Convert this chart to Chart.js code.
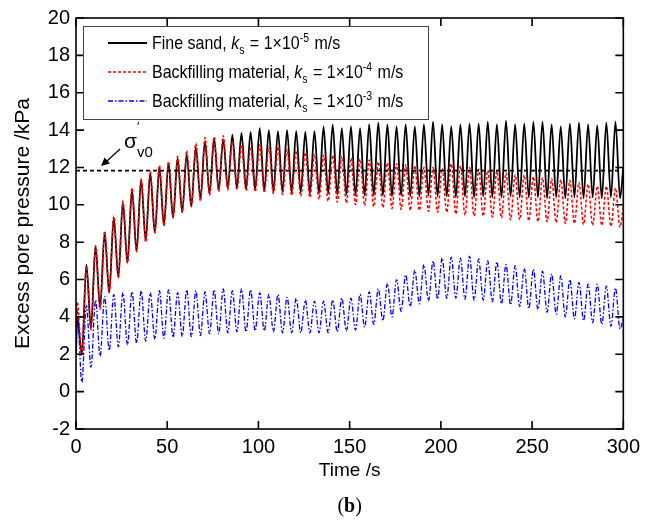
<!DOCTYPE html>
<html>
<head>
<meta charset="utf-8">
<script src="https://cdn.jsdelivr.net/npm/chart.js@4.4.0/dist/chart.umd.min.js"></script>
<style>
  html, body { margin: 0; padding: 0; background: #fff; }
  #wrap { width: 646px; height: 527px; }
</style>
</head>
<body>
<div id="wrap"><canvas id="poreChart" width="646" height="527"></canvas></div>
<script>
// time of each turning point (s): start, then peak / trough pairs, end
const timeS = [
  0, 0.7, 3.2, 5.7, 8.2, 10.7, 13.2, 15.7, 18.2, 20.7, 23.2, 25.7, 28.2, 30.7, 33.2, 35.7, 38.2, 40.7, 43.2, 45.7, 48.2,
  50.7, 53.2, 55.7, 58.2, 60.7, 63.2, 65.7, 68.2, 70.7, 73.2, 75.7, 78.2, 80.7, 83.2, 85.7, 88.2, 90.7, 93.2, 95.7, 98.2,
  100.7, 103.2, 105.7, 108.2, 110.7, 113.2, 115.7, 118.2, 120.7, 123.2, 125.7, 128.2, 130.7, 133.2, 135.7, 138.2, 140.7, 143.2, 145.7, 148.2,
  150.7, 153.2, 155.7, 158.2, 160.7, 163.2, 165.7, 168.2, 170.7, 173.2, 175.7, 178.2, 180.7, 183.2, 185.7, 188.2, 190.7, 193.2, 195.7, 198.2,
  200.7, 203.2, 205.7, 208.2, 210.7, 213.2, 215.7, 218.2, 220.7, 223.2, 225.7, 228.2, 230.7, 233.2, 235.7, 238.2, 240.7, 243.2, 245.7, 248.2,
  250.7, 253.2, 255.7, 258.2, 260.7, 263.2, 265.7, 268.2, 270.7, 273.2, 275.7, 278.2, 280.7, 283.2, 285.7, 288.2, 290.7, 293.2, 295.7, 298.2, 300
];

// Fine sand, ks = 1e-5 m/s (kPa)
const fineSand = [
  2.0, 4.0, 2.0, 6.8, 3.4, 7.8, 4.5, 8.5, 5.3, 9.3, 6.1, 10.1, 6.9, 10.8, 7.5, 11.35, 8.1, 11.7, 8.5, 12.0, 8.9,
  12.25, 9.3, 12.5, 9.6, 12.7, 9.9, 13.1, 10.3, 13.4, 10.6, 13.55, 10.8, 13.5, 10.9, 13.75, 10.9, 13.85, 10.85, 13.9, 10.8,
  14.1, 10.75, 14.0, 10.7, 13.95, 10.7, 14.0, 10.65, 13.95, 10.65, 13.9, 10.6, 13.95, 10.6, 14.2, 10.6, 14.3, 10.55, 14.1, 10.55,
  14.2, 10.5, 14.1, 10.5, 14.3, 10.5, 14.4, 10.5, 14.3, 10.45, 14.2, 10.5, 14.3, 10.45, 14.2, 10.45, 14.3, 10.5, 14.45, 10.45,
  14.3, 10.45, 14.2, 10.4, 14.3, 10.45, 14.35, 10.4, 14.35, 10.45, 14.45, 10.4, 14.3, 10.4, 14.5, 10.45, 14.3, 10.4, 14.35, 10.4,
  14.45, 10.4, 14.45, 10.35, 14.3, 10.4, 14.2, 10.35, 14.35, 10.4, 14.4, 10.35, 14.3, 10.4, 14.25, 10.35, 14.4, 10.4, 14.45, 10.35, 12.0
];

// Backfilling material, ks = 1e-4 m/s (kPa)
const backfill4 = [
  3.5, 4.8, 1.9, 6.7, 3.3, 7.8, 4.4, 8.6, 5.3, 9.4, 6.1, 10.2, 6.9, 10.9, 7.5, 11.4, 8.0, 11.8, 8.5, 12.1, 8.9,
  12.3, 9.3, 12.6, 9.6, 12.9, 9.9, 13.3, 10.2, 13.6, 10.5, 13.65, 10.7, 13.7, 10.8, 13.4, 10.8, 13.2, 10.75, 13.1, 10.7,
  13.2, 10.65, 13.1, 10.6, 13.1, 10.55, 12.95, 10.5, 12.9, 10.45, 12.8, 10.4, 12.7, 10.3, 12.65, 10.2, 12.65, 10.15, 12.6, 10.1,
  12.5, 10.0, 12.45, 9.95, 12.4, 9.9, 12.3, 9.85, 12.25, 9.8, 12.2, 9.75, 12.15, 9.7, 12.1, 9.7, 12.0, 9.65, 12.0, 9.6,
  11.95, 9.6, 12.2, 9.5, 12.1, 9.45, 12.0, 9.4, 11.9, 9.4, 11.85, 9.35, 11.8, 9.3, 11.7, 9.2, 11.6, 9.2, 11.6, 9.15,
  11.5, 9.1, 11.45, 9.1, 11.4, 9.05, 11.35, 9.0, 11.3, 9.0, 11.2, 8.95, 11.1, 8.9, 11.0, 8.9, 11.0, 8.85, 10.9, 8.8, 9.9
];

// Backfilling material, ks = 1e-3 m/s (kPa)
const backfill3 = [
  2.5, 4.3, 0.5, 4.6, 1.3, 4.9, 1.9, 5.1, 2.2, 5.2, 2.4, 5.3, 2.5, 5.35, 2.6, 5.4, 2.7, 5.3, 2.8, 5.4, 2.85,
  5.45, 2.9, 5.3, 2.95, 5.45, 2.95, 5.4, 3.0, 5.35, 3.1, 5.45, 3.1, 5.5, 3.15, 5.4, 3.2, 5.5, 3.2, 5.45, 3.25,
  5.3, 3.25, 5.2, 3.2, 5.2, 3.15, 5.05, 3.15, 5.0, 3.15, 4.9, 3.15, 4.85, 3.15, 4.85, 3.15, 4.9, 3.2, 5.0, 3.25,
  5.0, 3.3, 5.2, 3.45, 5.35, 3.6, 5.5, 3.8, 5.8, 4.0, 6.0, 4.3, 6.25, 4.55, 6.5, 4.7, 6.8, 4.85, 7.0, 4.95,
  7.15, 5.0, 7.2, 5.0, 7.15, 4.95, 7.25, 4.9, 7.1, 4.9, 7.0, 4.8, 6.95, 4.7, 6.8, 4.65, 6.75, 4.55, 6.6, 4.45,
  6.55, 4.4, 6.45, 4.25, 6.3, 4.15, 6.2, 4.0, 6.0, 3.9, 5.85, 3.8, 5.75, 3.7, 5.75, 3.6, 5.65, 3.5, 5.55, 3.35, 4.0
];

// initial vertical effective stress line
const sigmaV0 = 11.83;
const xTicks = [0, 50, 100, 150, 200, 250, 300];
const yTicks = [-2, 0, 2, 4, 6, 8, 10, 12, 14, 16, 18, 20];

const FONT = 'Arial, "Liberation Sans", Helvetica, sans-serif';

function toPoints(values) {
  return values.map((v, i) => ({ x: timeS[i], y: v }));
}

// draws a run of text pieces (normal / italic / sub / sup), slightly stretched vertically
function drawRuns(ctx, runs, x, y) {
  let cx = x;
  runs.forEach(r => {
    ctx.font = r.font;
    ctx.save();
    ctx.translate(cx, y + (r.dy || 0));
    ctx.scale(1, 1.2);
    ctx.fillText(r.text, 0, 0);
    ctx.restore();
    cx += ctx.measureText(r.text).width + (r.gap || 0);
  });
}

function legendRuns(name, exp) {
  const n = '16px ' + FONT;
  const small = '10.5px ' + FONT;
  return [
    { text: name + ', ', font: n },
    { text: 'k', font: 'italic ' + n },
    { text: 's', font: small, dy: 5, gap: 1 },
    { text: ' = 1\u00d710', font: n },
    { text: exp, font: small, dy: -7, gap: 1 },
    { text: ' m/s', font: n }
  ];
}

const decorations = {
  id: 'decorations',
  afterDraw(chart) {
    const ctx = chart.ctx;
    const { left, right, top, bottom } = chart.chartArea;
    const xs = chart.scales.x;
    const ys = chart.scales.y;
    ctx.save();

    // frame and inward ticks
    ctx.strokeStyle = '#000';
    ctx.lineWidth = 1.6;
    ctx.strokeRect(left, top, right - left, bottom - top);
    ctx.beginPath();
    xTicks.forEach(t => {
      const px = xs.getPixelForValue(t);
      ctx.moveTo(px, bottom); ctx.lineTo(px, bottom - 8);
      ctx.moveTo(px, top); ctx.lineTo(px, top + 8);
    });
    yTicks.forEach(t => {
      const py = ys.getPixelForValue(t);
      ctx.moveTo(left, py); ctx.lineTo(left + 8, py);
      ctx.moveTo(right, py); ctx.lineTo(right - 8, py);
    });
    ctx.stroke();

    // legend box
    ctx.fillStyle = '#fff';
    ctx.fillRect(83, 26, 345, 93);
    ctx.strokeStyle = '#444';
    ctx.lineWidth = 1;
    ctx.strokeRect(83.5, 26.5, 345, 93);

    const rows = [
      { y: 43, color: '#000', dash: [], width: 1.8, runs: legendRuns('Fine sand', '-5') },
      { y: 72, color: '#ff0000', dash: [3, 2], width: 1.5, runs: legendRuns('Backfilling material', '-4') },
      { y: 101, color: '#0000ff', dash: [5, 2, 1.5, 2], width: 1.3, runs: legendRuns('Backfilling material', '-3') }
    ];
    rows.forEach(r => {
      ctx.beginPath();
      ctx.setLineDash(r.dash);
      ctx.strokeStyle = r.color;
      ctx.lineWidth = r.width;
      ctx.moveTo(108, r.y); ctx.lineTo(147, r.y);
      ctx.stroke();
      ctx.setLineDash([]);
      ctx.fillStyle = '#000';
      ctx.textBaseline = 'alphabetic';
      drawRuns(ctx, r.runs, 152, r.y + 6);
    });

    // sigma'_v0 label with arrow
    ctx.fillStyle = '#000';
    ctx.font = '21px ' + FONT;
    ctx.fillText('\u03c3', 124, 148);
    ctx.font = '13px ' + FONT;
    ctx.fillText('\u2032', 137, 131);
    ctx.font = '15px ' + FONT;
    ctx.fillText('v0', 137, 157);
    ctx.beginPath();
    ctx.strokeStyle = '#000';
    ctx.lineWidth = 1.2;
    ctx.moveTo(120, 149); ctx.lineTo(107, 161);
    ctx.stroke();
    ctx.beginPath();
    ctx.moveTo(101, 166); ctx.lineTo(104.5, 157.5); ctx.lineTo(110, 163.5);
    ctx.closePath();
    ctx.fill();

    // panel label
    const cx = (left + right) / 2;
    ctx.textBaseline = 'alphabetic';
    ctx.textAlign = 'left';
    ctx.font = '20px "Liberation Serif", "Times New Roman", serif';
    const wOpen = ctx.measureText('(').width;
    ctx.font = 'bold 20px "Liberation Serif", "Times New Roman", serif';
    const wB = ctx.measureText('b').width;
    const sx = cx - (wOpen * 2 + wB) / 2;
    ctx.font = '20px "Liberation Serif", "Times New Roman", serif';
    ctx.fillText('(', sx, 512);
    ctx.font = 'bold 20px "Liberation Serif", "Times New Roman", serif';
    ctx.fillText('b', sx + wOpen, 512);
    ctx.font = '20px "Liberation Serif", "Times New Roman", serif';
    ctx.fillText(')', sx + wOpen + wB, 512);

    ctx.restore();
  }
};

const ctx = document.getElementById('poreChart').getContext('2d');

new Chart(ctx, {
  type: 'line',
  data: {
    datasets: [
      {
        label: 'sigma v0',
        data: [{ x: 0, y: sigmaV0 }, { x: 300, y: sigmaV0 }],
        borderColor: '#000',
        borderWidth: 1.6,
        borderDash: [4, 3],
        pointRadius: 0,
        order: 0
      },
      {
        label: 'Backfilling material, ks = 1e-4 m/s',
        data: toPoints(backfill4),
        borderColor: '#ff0000',
        borderWidth: 1.5,
        borderDash: [3, 2],
        pointRadius: 0,
        cubicInterpolationMode: 'monotone',
        order: 1
      },
      {
        label: 'Backfilling material, ks = 1e-3 m/s',
        data: toPoints(backfill3),
        borderColor: '#0000ff',
        borderWidth: 1.3,
        borderDash: [5, 2, 1.5, 2],
        pointRadius: 0,
        cubicInterpolationMode: 'monotone',
        order: 2
      },
      {
        label: 'Fine sand, ks = 1e-5 m/s',
        data: toPoints(fineSand),
        borderColor: '#000',
        borderWidth: 1.8,
        pointRadius: 0,
        cubicInterpolationMode: 'monotone',
        order: 3
      }
    ]
  },
  options: {
    responsive: false,
    animation: false,
    layout: { padding: { top: 18, right: 17, left: 0, bottom: 0 } },
    plugins: {
      legend: { display: false },
      tooltip: { enabled: false }
    },
    scales: {
      x: {
        type: 'linear',
        min: 0,
        max: 300,
        afterBuildTicks: scale => { scale.ticks = xTicks.map(v => ({ value: v })); },
        afterFit: scale => { scale.height = 98; },
        grid: { display: false, drawTicks: false },
        border: { display: false },
        ticks: { color: '#000', padding: 6, font: { size: 20, family: FONT } },
        title: {
          display: true,
          text: 'Time /s',
          color: '#000',
          font: { size: 19, family: FONT },
          padding: { top: 0, bottom: 45 }
        }
      },
      y: {
        type: 'linear',
        min: -2,
        max: 20,
        afterBuildTicks: scale => { scale.ticks = yTicks.map(v => ({ value: v })); },
        afterFit: scale => { scale.width = 76; },
        grid: { display: false, drawTicks: false },
        border: { display: false },
        ticks: { color: '#000', padding: 6, font: { size: 20, family: FONT } },
        title: {
          display: true,
          text: 'Excess pore pressure /kPa',
          color: '#000',
          font: { size: 21, family: FONT },
          padding: { top: 11, bottom: 0 }
        }
      }
    }
  },
  plugins: [decorations]
});
</script>
</body>
</html>
